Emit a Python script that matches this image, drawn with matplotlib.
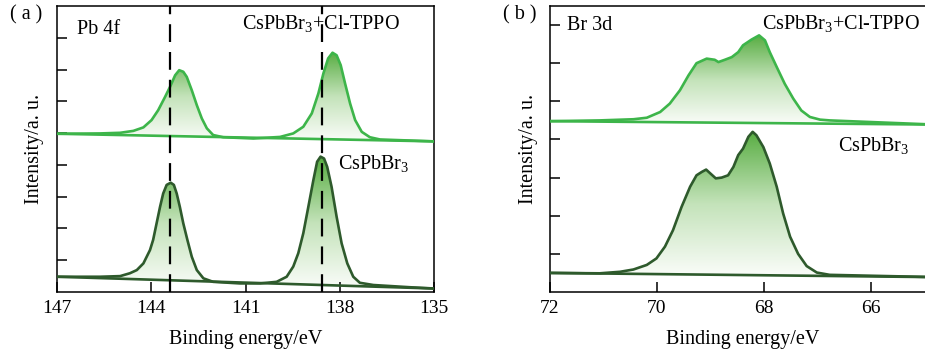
"""
XPS spectra: Pb 4f and Br 3d of CsPbBr3 with and without Cl-TPPO
"""
import numpy as np
import matplotlib
import matplotlib.pyplot as plt
from matplotlib.colors import LinearSegmentedColormap
from matplotlib.patches import Polygon

matplotlib.use('Agg')

plt.rcParams['font.family'] = ['Liberation Serif', 'DejaVu Serif']
plt.rcParams['mathtext.fontset'] = 'custom'
plt.rcParams['mathtext.rm'] = 'Liberation Serif'

# ---- panel (a) Pb 4f: values ----
a_top_E = [147.0, 145.63, 144.99, 144.57, 144.25, 143.99, 143.78, 143.56, 143.40, 143.24,
           143.11, 142.98, 142.87, 142.71, 142.55, 142.39, 142.23, 142.03, 141.71, 140.75,
           139.90, 139.48, 139.16, 138.89, 138.68, 138.52, 138.37, 138.23, 138.10, 137.97,
           137.83, 137.67, 137.51, 137.30, 137.04, 136.72, 135.0]
a_top_I = [4.98, 4.99, 5.01, 5.07, 5.18, 5.41, 5.72, 6.14, 6.46, 6.82,
           6.98, 6.93, 6.77, 6.35, 5.88, 5.46, 5.15, 4.94, 4.87, 4.83,
           4.88, 4.99, 5.20, 5.62, 6.25, 6.88, 7.35, 7.53, 7.45, 7.14,
           6.56, 5.93, 5.41, 5.04, 4.87, 4.80, 4.74]
a_top_base = [4.98, 4.74]   # straight background at 147 and 135 eV

a_bot_E = [147.0, 145.63, 144.99, 144.68, 144.46, 144.25, 144.04, 143.94, 143.83, 143.72,
           143.62, 143.51, 143.38, 143.28, 143.19, 143.09, 142.98, 142.85, 142.71, 142.55,
           142.34, 142.03, 141.18, 140.54, 140.01, 139.69, 139.48, 139.32, 139.16, 139.00,
           138.84, 138.72, 138.61, 138.50, 138.40, 138.26, 138.10, 137.94, 137.76, 137.57,
           137.36, 136.93, 135.77, 135.0]
a_bot_I = [0.48, 0.48, 0.50, 0.59, 0.69, 0.90, 1.32, 1.64, 2.16, 2.68,
           3.10, 3.37, 3.44, 3.37, 3.10, 2.68, 2.16, 1.64, 1.11, 0.69,
           0.43, 0.32, 0.27, 0.27, 0.32, 0.48, 0.80, 1.22, 1.85, 2.68,
           3.52, 4.10, 4.26, 4.20, 3.94, 3.31, 2.37, 1.53, 0.90, 0.48,
           0.29, 0.22, 0.15, 0.11]
a_bot_base = [0.48, 0.11]

a_dash_E = [143.39, 138.58]
a_xticks = [147, 144, 141, 138, 135]

# ---- panel (b) Br 3d ----
b_top_E = [72.0, 71.07, 70.44, 70.19, 69.94, 69.76, 69.57, 69.41, 69.26, 69.07,
           68.92, 68.85, 68.73, 68.60, 68.48, 68.39, 68.23, 68.09, 67.98, 67.89,
           67.76, 67.61, 67.45, 67.30, 67.14, 66.95, 66.77, 64.8]
b_top_I = [4.48, 4.50, 4.53, 4.57, 4.72, 4.94, 5.29, 5.68, 6.00, 6.12,
           6.09, 6.03, 6.09, 6.16, 6.29, 6.47, 6.62, 6.73, 6.60, 6.29,
           5.90, 5.46, 5.07, 4.76, 4.59, 4.52, 4.50, 4.39]
b_top_base = [4.48, 4.39]   # at 72 and 64.8 eV

b_bot_E = [72.0, 71.07, 70.69, 70.44, 70.19, 70.01, 69.85, 69.70, 69.54, 69.38,
           69.26, 69.16, 69.08, 69.01, 68.90, 68.79, 68.67, 68.57, 68.48, 68.39,
           68.29, 68.21, 68.14, 68.01, 67.89, 67.76, 67.64, 67.51, 67.36, 67.20,
           67.01, 66.77, 64.8]
b_bot_I = [0.50, 0.49, 0.53, 0.59, 0.71, 0.88, 1.19, 1.62, 2.23, 2.76,
           3.06, 3.15, 3.21, 3.12, 2.98, 3.00, 3.06, 3.28, 3.59, 3.76,
           4.07, 4.20, 4.11, 3.80, 3.37, 2.76, 2.06, 1.45, 1.00, 0.68,
           0.51, 0.45, 0.39]
b_bot_base = [0.50, 0.39]

b_xticks = [72, 70, 68, 66]

light = '#3db54a'
dark = '#2e5a2c'
grad = LinearSegmentedColormap.from_list('g', ['#fbfdfa', '#c4e3ba', '#58ad42'])

W, H = 925, 354
FS = 14.5
fig = plt.figure(figsize=(W / 100, H / 100), dpi=100)


def box(l, t, r, b):
    return [l / W, 1 - b / H, (r - l) / W, (b - t) / H]


def spectrum(ax, E, I, base, xlim, color):
    E = np.array(E)
    I = np.array(I)
    bx = np.array(xlim)
    bl = np.interp(E, bx[::-1], np.array(base)[::-1])
    verts = list(zip(E, I)) + list(zip(E[::-1], bl[::-1]))
    poly = Polygon(verts, closed=True, facecolor='none', edgecolor='none')
    ax.add_patch(poly)
    g = np.linspace(0, 1, 256).reshape(-1, 1)
    im = ax.imshow(g, cmap=grad, origin='lower', aspect='auto',
                   extent=[E.max(), E.min(), bl.min(), I.max()], zorder=1)
    im.set_clip_path(poly)
    ax.plot(E, I, color=color, lw=1.9, zorder=3, solid_joinstyle='round')
    ax.plot(bx, base, color=color, lw=1.9, zorder=3)


def style(ax, xlim, ylim, xticks, yticks):
    ax.set_xlim(xlim)
    ax.set_ylim(ylim)
    ax.set_xticks(xticks)
    ax.set_xticklabels([str(t) for t in xticks], fontsize=14)
    ax.set_yticks(yticks)
    ax.set_yticklabels([])
    ax.tick_params(direction='in', length=7, width=1.1, pad=6)
    for s in ax.spines.values():
        s.set_linewidth(1.1)
    ax.set_xlabel('Binding energy/eV', fontsize=FS, labelpad=9)
    ax.set_ylabel('Intensity/a. u.', fontsize=FS, labelpad=3)


# panel (a)
ax1 = fig.add_axes(box(57, 6, 434, 292))
xa = (147, 135)
spectrum(ax1, a_top_E, a_top_I, a_top_base, xa, light)
spectrum(ax1, a_bot_E, a_bot_I, a_bot_base, xa, dark)
for e in a_dash_E:
    ax1.axvline(e, color='black', lw=1.6, ls=(0, (8, 4.5)), zorder=4)
style(ax1, xa, (0, 9), a_xticks, range(1, 9))

# panel (b), cut at the right edge like the original
ax2 = fig.add_axes(box(550, 6, 935, 292))
xb = (72, 64.8)
spectrum(ax2, b_top_E, b_top_I, b_top_base, xb, light)
spectrum(ax2, b_bot_E, b_bot_I, b_bot_base, xb, dark)
style(ax2, xb, (0, 7.5), b_xticks, range(1, 8))


def label(px, py, s, size=FS):
    fig.text(px / W, 1 - py / H, s, fontsize=size, ha='left', va='center')


label(10, 15, '( a )')
label(77, 29, 'Pb 4f')
label(242, 24, r'CsPbBr$_{\mathrm{3}}$+Cl-TPPO')
label(338, 164, r'CsPbBr$_{\mathrm{3}}$')
label(503, 15, '( b )')
label(567, 25, 'Br 3d')
label(762, 24, r'CsPbBr$_{\mathrm{3}}$+Cl-TPPO')
label(838, 146, r'CsPbBr$_{\mathrm{3}}$')

fig.savefig('out.png', dpi=100)
plt.close(fig)
